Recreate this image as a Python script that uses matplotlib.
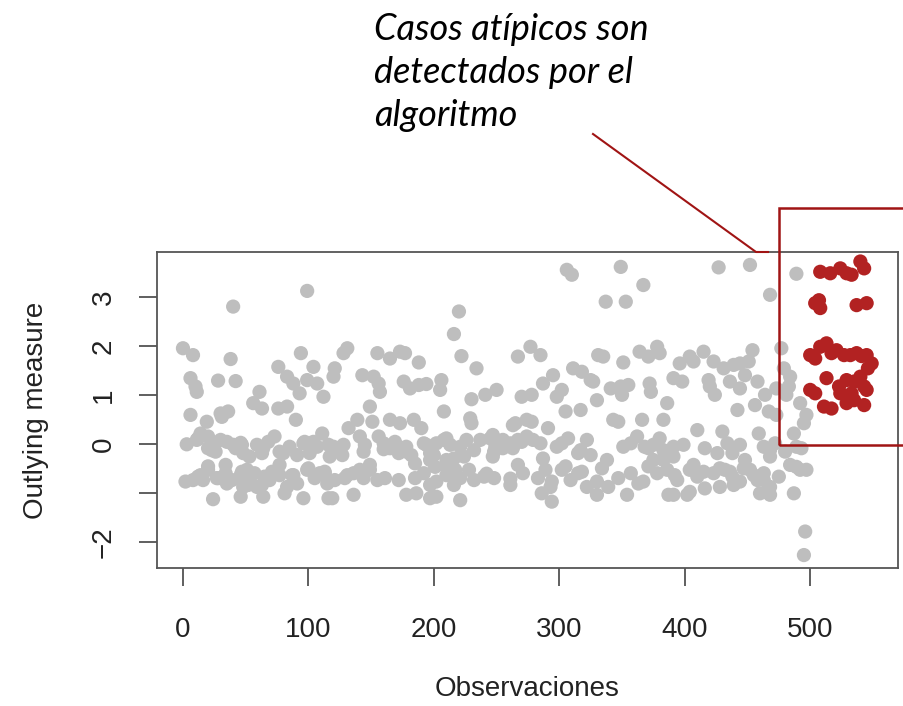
import numpy as np
import matplotlib.pyplot as plt
from matplotlib.lines import Line2D
from matplotlib.patches import Rectangle

plt.rcParams['font.family'] = ['Liberation Sans', 'DejaVu Sans']

# Puntos: (observacion, outlying measure)
gris_0_120 = [
    (99, 3.13), (40, 2.81), (0, 1.96), (8, 1.82), (38, 1.74), (94, 1.86), (6, 1.35), (10, 1.18),
    (11, 1.07), (28, 1.30), (42, 1.29), (76, 1.58), (83, 1.38), (88, 1.24), (93, 1.04), (99, 1.31),
    (104, 1.58), (107, 1.24), (112, 0.97), (61, 1.07), (56, 0.84), (63, 0.73), (76, 0.73), (83, 0.77),
    (90, 0.50), (6, 0.60), (19, 0.46), (30, 0.63), (36, 0.67), (31, 0.56), (3, 0.0), (11, 0.09), (23, -0.12),
    (46, 0.03), (59, -0.01), (64, -0.08), (68, 0.05), (73, 0.16), (80, -0.18), (91, -0.22), (96, 0.02),
    (104, 0.05), (111, 0.22), (14, 0.22), (20, 0.16), (24, 0.02), (30, 0.09), (35, 0.05), (40, -0.01),
    (48, -0.18), (53, -0.25), (85, -0.05), (101, -0.18), (107, -0.05),
    (12, 0.12), (20, -0.08), (26, -0.15), (42, -0.08), (47, -0.01), (63, -0.18), (77, -0.15), (97, 0.05),
    (116, -0.01),
    (2, -0.76), (14, -0.63), (20, -0.52), (27, -0.69), (34, -0.59), (39, -0.73), (46, -0.63), (51, -0.52),
    (53, -0.73), (59, -0.87), (65, -0.66), (72, -0.59), (77, -0.63), (83, -0.87), (88, -0.63), (99, -0.52),
    (105, -0.69), (115, -0.80), (8, -0.73), (16, -0.73), (35, -0.80), (48, -0.87), (69, -0.73), (91, -0.80),
    (109, -0.59), (12, -0.66), (20, -0.45), (28, -0.69), (34, -0.42), (47, -0.56), (52, -0.83), (57, -0.59),
    (63, -0.83), (71, -0.56), (77, -0.42), (87, -0.63), (100, -0.49), (113, -0.56),
    (24, -1.12), (46, -1.07), (64, -1.07), (81, -1.0), (96, -1.1), (116, -1.1),
]

gris_120_250 = [
    (220, 2.71), (216, 2.25), (222, 1.80), (234, 1.55), (131, 1.96), (128, 1.86), (155, 1.86), (165, 1.75),
    (173, 1.89), (177, 1.86), (188, 1.67), (121, 1.55), (120, 1.38), (143, 1.41), (152, 1.38), (156, 1.24),
    (157, 1.07), (176, 1.28), (181, 1.14), (188, 1.21), (194, 1.23), (206, 1.31), (205, 1.11), (149, 0.77),
    (208, 0.67), (230, 0.92), (241, 1.01), (250, 1.11), (229, 0.53), (230, 0.43), (139, 0.50), (132, 0.33),
    (151, 0.46), (165, 0.50), (173, 0.43), (184, 0.50), (190, 0.33),
    (120, -0.05), (128, -0.01), (117, -0.25), (127, -0.22), (141, 0.16), (145, -0.01), (144, -0.15), (156, 0.16),
    (160, 0.02), (165, -0.08), (169, 0.05), (172, -0.18), (178, -0.05), (182, -0.22), (185, -0.39), (192, 0.02),
    (197, -0.18), (202, 0.02), (208, 0.09), (213, -0.01), (221, -0.05), (226, 0.09), (232, -0.12), (237, 0.09),
    (245, 0.12), (249, -0.05), (197, -0.32), (201, -0.46), (210, -0.32), (217, -0.52), (224, -0.25), (228, -0.52),
    (160, -0.10), (178, -0.15), (194, -0.01), (200, -0.22), (210, 0.12), (216, -0.29), (248, -0.15),
    (113, -0.59), (121, -0.73), (129, -0.69), (136, -0.59), (144, -0.69), (149, -0.52), (155, -0.73), (161, -0.69),
    (172, -0.73), (185, -0.69), (192, -0.59), (197, -0.83), (202, -0.76), (210, -0.63), (216, -0.83), (221, -0.69),
    (232, -0.73), (240, -0.66), (248, -0.69), (131, -0.63), (141, -0.52), (149, -0.42), (211, -0.49),
    (217, -0.63), (242, -0.60),
    (119, -1.1), (136, -1.03), (178, -1.03), (186, -1.0), (197, -1.1), (202, -1.07), (221, -1.14),
]

gris_250_390 = [
    (306, 3.56), (310, 3.46), (349, 3.62), (367, 3.25), (337, 2.91), (353, 2.91), (267, 1.79), (277, 1.99),
    (285, 1.82), (331, 1.82), (335, 1.79), (351, 1.67), (364, 1.89), (371, 1.79), (378, 1.99), (380, 1.86),
    (287, 1.24), (295, 1.41), (298, 0.97), (302, 1.11), (311, 1.55), (318, 1.48), (325, 1.31), (327, 1.28),
    (341, 1.14), (349, 1.18), (355, 1.21), (350, 1.01), (372, 1.24), (373, 1.07), (270, 0.97), (278, 1.01),
    (330, 0.90), (386, 0.84), (305, 0.67), (317, 0.70), (343, 0.50), (347, 0.46), (366, 0.50), (383, 0.50),
    (265, 0.43), (274, 0.50), (278, 0.46), (291, 0.33), (263, 0.39),
    (247, 0.19), (255, 0.09), (261, 0.02), (247, -0.25), (255, -0.08), (267, 0.09), (274, 0.16), (279, 0.09),
    (285, 0.02), (287, -0.29), (298, -0.05), (302, 0.02), (307, 0.12), (315, -0.18), (322, 0.09), (317, -0.12),
    (325, -0.22), (338, -0.32), (351, -0.05), (357, 0.02), (362, 0.16), (368, -0.05), (375, -0.01), (380, 0.12),
    (383, -0.12), (375, -0.32), (263, -0.08), (270, 0.05), (371, -0.08),
    (261, -0.83), (271, -0.59), (283, -0.69), (289, -0.52), (293, -0.87), (302, -0.52), (309, -0.73), (315, -0.59),
    (322, -0.87), (330, -0.76), (339, -0.87), (347, -0.69), (357, -0.59), (367, -0.76), (378, -0.59), (386, -0.52),
    (261, -0.70), (267, -0.42), (294, -0.76), (305, -0.45), (318, -0.56), (334, -0.49), (363, -0.80),
    (371, -0.45),
    (286, -1.0), (294, -1.17), (330, -1.03), (354, -1.03), (387, -1.03),
]

gris_390_500 = [
    (427, 3.61), (452, 3.66), (489, 3.48), (468, 3.05), (396, 1.65), (404, 1.79), (407, 1.69), (415, 1.89),
    (423, 1.69), (431, 1.55), (439, 1.62), (444, 1.65), (451, 1.69), (454, 1.92), (477, 1.96), (391, 1.35),
    (398, 1.28), (419, 1.31), (420, 1.18), (424, 1.01), (436, 1.28), (444, 1.14), (448, 1.41), (458, 1.28),
    (479, 1.55), (484, 1.38), (483, 1.18), (464, 1.01), (473, 1.14), (481, 1.01), (442, 0.70), (456, 0.80),
    (467, 0.67), (473, 0.60), (492, 0.84), (497, 0.60), (495, 0.43), (410, 0.29), (430, 0.26), (459, 0.22),
    (487, 0.22),
    (391, -0.05), (399, -0.01), (383, -0.32), (391, -0.25), (416, -0.08), (426, -0.18), (434, 0.02), (438, -0.18),
    (444, -0.01), (448, -0.32), (463, -0.05), (468, -0.25), (472, 0.02), (480, -0.15), (489, -0.05), (493, -0.08),
    (468, -0.12),
    (394, -0.73), (404, -0.52), (410, -0.66), (415, -0.56), (423, -0.59), (428, -0.87), (432, -0.52), (438, -0.66),
    (444, -0.76), (452, -0.52), (458, -0.73), (463, -0.59), (468, -0.87), (475, -0.66), (489, -0.46), (497, -0.52),
    (392, -0.63), (407, -0.42), (428, -0.49), (436, -0.56), (447, -0.49), (455, -0.63), (463, -0.73),
    (484, -0.42), (492, -0.52), (439, -0.83), (404, -0.97),
    (391, -1.03), (402, -1.03), (416, -0.90), (460, -1.0), (468, -1.03), (487, -1.0), (496, -1.78), (495, -2.26),
]

atipicos = [
    (508, 3.52), (516, 3.49), (524, 3.59), (529, 3.49), (533, 3.46), (540, 3.73), (543, 3.59),
    (504, 2.88), (508, 2.78), (507, 2.94), (537, 2.84), (545, 2.88),
    (500, 1.82), (504, 1.75), (508, 1.99), (513, 2.06), (517, 1.86), (521, 1.92), (527, 1.82), (532, 1.82),
    (537, 1.86), (541, 1.80), (545, 1.82), (549, 1.65), (546, 1.55),
    (500, 1.11), (504, 1.04), (513, 1.35), (523, 1.18), (524, 1.04), (529, 1.31), (535, 1.28), (540, 1.38),
    (543, 1.18), (533, 1.04), (545, 1.11), (511, 0.77), (517, 0.73), (529, 0.84), (535, 0.90), (543, 0.80),
]

ticks_x = [0, 100, 200, 300, 400, 500]
ticks_y = [-2, -1, 0, 1, 2, 3]
etiquetas_y = ['\u22122', '', '0', '1', '2', '3']

texto_nota = 'Casos atípicos son\ndetectados por el\nalgoritmo'
rojo_nota = '#A01414'

W, H = 904, 706
fig = plt.figure(figsize=(W / 100, H / 100), dpi=100)
ax = fig.add_axes([157 / W, 138 / H, 741 / W, 316 / H])

gris = np.array(gris_0_120 + gris_120_250 + gris_250_390 + gris_390_500)
rojos = np.array(atipicos)
ax.scatter(gris[:, 0], gris[:, 1], s=105, c='#BEBEBE', edgecolors='none')
ax.scatter(rojos[:, 0], rojos[:, 1], s=105, c='#B22222', edgecolors='none')

ax.set_xlim(-20.7, 570)
ax.set_ylim(-2.524, 3.924)
ax.set_xticks(ticks_x)
ax.set_yticks(ticks_y)
ax.set_yticklabels(etiquetas_y)
ax.tick_params(axis='both', length=13, width=1.2, color='#444444', labelsize=20, labelcolor='#222222')
ax.tick_params(axis='x', pad=22)
ax.tick_params(axis='y', pad=16, labelrotation=90)
for lbl in ax.get_yticklabels():
    lbl.set_va('center')
for sp in ax.spines.values():
    sp.set_color('#555555')
    sp.set_linewidth(1.3)

ax.set_xlabel('Observaciones', fontsize=20, color='#222222')
ax.xaxis.set_label_coords(0.5, -0.342)
ax.set_ylabel('Outlying measure', fontsize=20, color='#222222')
ax.yaxis.set_label_coords(-0.146, 0.5)

# anotacion de la diapositiva
fig.text(374 / W, 1 - 13 / H, texto_nota, fontsize=26, style='italic', family=['Lato', 'DejaVu Sans'],
         va='top', ha='left', linespacing=1.37, color='black')
fig.add_artist(Line2D([593 / W, 756 / W, 768 / W], [1 - 134 / H, 1 - 252 / H, 1 - 252 / H],
                      color=rojo_nota, lw=1.5))
fig.add_artist(Rectangle((779 / W, 1 - 445 / H), 140 / W, 237 / H, fill=False,
                         edgecolor=rojo_nota, lw=1.8, clip_on=False))

fig.savefig('out.png', dpi=100)
